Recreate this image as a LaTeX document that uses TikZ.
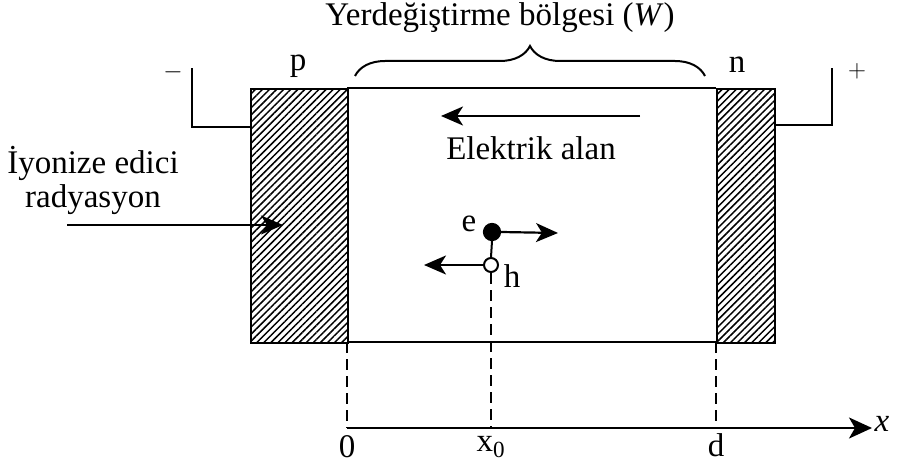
\documentclass[tikz,border=0pt]{standalone}
\usepackage{fontspec}
\setmainfont{Liberation Serif}
\usetikzlibrary{arrows.meta,patterns.meta,decorations.pathreplacing}
\begin{document}
\begin{tikzpicture}[x=1pt,y=-1pt,
  every node/.style={font=\fontsize{33}{38}\selectfont, inner sep=0pt},
  wire/.style={line width=2.2pt},
  hatchblk/.style={draw, line width=2.2pt, pattern={Lines[angle=45,distance=5pt,line width=1.5pt]}},
  arr/.style={line width=2.2pt,-{Stealth[length=22pt,width=19pt,inset=6pt]}},
  dashline/.style={line width=2pt, dash pattern=on 11pt off 6pt}]
\useasboundingbox (0,0) rectangle (912,465);
% blocks
\node[hatchblk, minimum width=97pt, minimum height=254pt, anchor=north west] (pblk) at (250,88) {};
\node[hatchblk, minimum width=58pt, minimum height=254pt, anchor=north west] (nblk) at (716,88) {};
\coordinate (tl) at (347,88);
\coordinate (tr) at (716,88);
\coordinate (bl) at (347,342);
\coordinate (br) at (716,342);
\draw[wire] (tl) -- (tr);
\draw[wire] (bl) -- (br);
% wires
\coordinate (lw) at (192,68);
\coordinate (rw) at (832,68);
\draw[wire] (pblk.west |- 0,127) -| (lw);
\draw[wire] (nblk.east |- 0,125) -| (rw);
\node (minus) at (173,72) {\fontsize{28}{32}\selectfont$-$};
\node (plus) at (857,71) {\fontsize{28}{32}\selectfont$+$};
\node (p) at (298,66) {p};
\node (n) at (737,65) {n};
% brace and title
\coordinate (b1) at (355,76);
\coordinate (b2) at (705,76);
\draw[line width=2pt, decorate, decoration={brace, amplitude=30pt, aspect=0.5}] (b1) -- (b2);
\node (title) at (500,18) {Yerdeğiştirme bölgesi (\textit{W})};
% electric field
\coordinate (f1) at (640,116);
\coordinate (f2) at (441,116);
\draw[arr] (f1) -- (f2);
\node (field) at (531,148) {Elektrik alan};
% radiation
\node[align=center] (rad) at (93,180) {İyonize edici\\[-4pt]radyasyon};
\coordinate (r1) at (67,225);
\coordinate (r2) at (283,225);
\draw[arr] (r1) -- (r2);
% carriers
\node[circle, fill=black, draw, line width=1.2pt, minimum size=17pt] (e) at (492,232) {};
\node[circle, fill=white, draw, line width=2pt, minimum size=14pt] (h) at (491,265) {};
\node (elab) at (469,224) {e};
\node (hlab) at (512,276) {h};
\coordinate (ee) at (558,233);
\coordinate (he) at (424,265);
\draw[arr] (e.east) -- (ee);
\draw[arr] (h.west) -- (he);
% axis
\coordinate (a0) at (347,428);
\coordinate (ax0) at (491,428);
\coordinate (ad) at (716,428);
\coordinate (aend) at (872,428);
\draw[line width=2pt] (e.south) -- (h.north);
\draw[dashline] (h.south) -- (ax0);
\draw[dashline] (bl) -- (a0);
\draw[dashline] (br) -- (ad);
\draw[line width=2.2pt,-{Stealth[length=23pt,width=21pt,inset=6pt]}] (a0) -- (aend);
\node (xlab) at (882,424) {\textit{x}};
\node (l0) at (347,447) {0};
\node (lx0) at (491,447) {x\textsubscript{0}};
\node (ld) at (716,445) {d};
\end{tikzpicture}
\end{document}
